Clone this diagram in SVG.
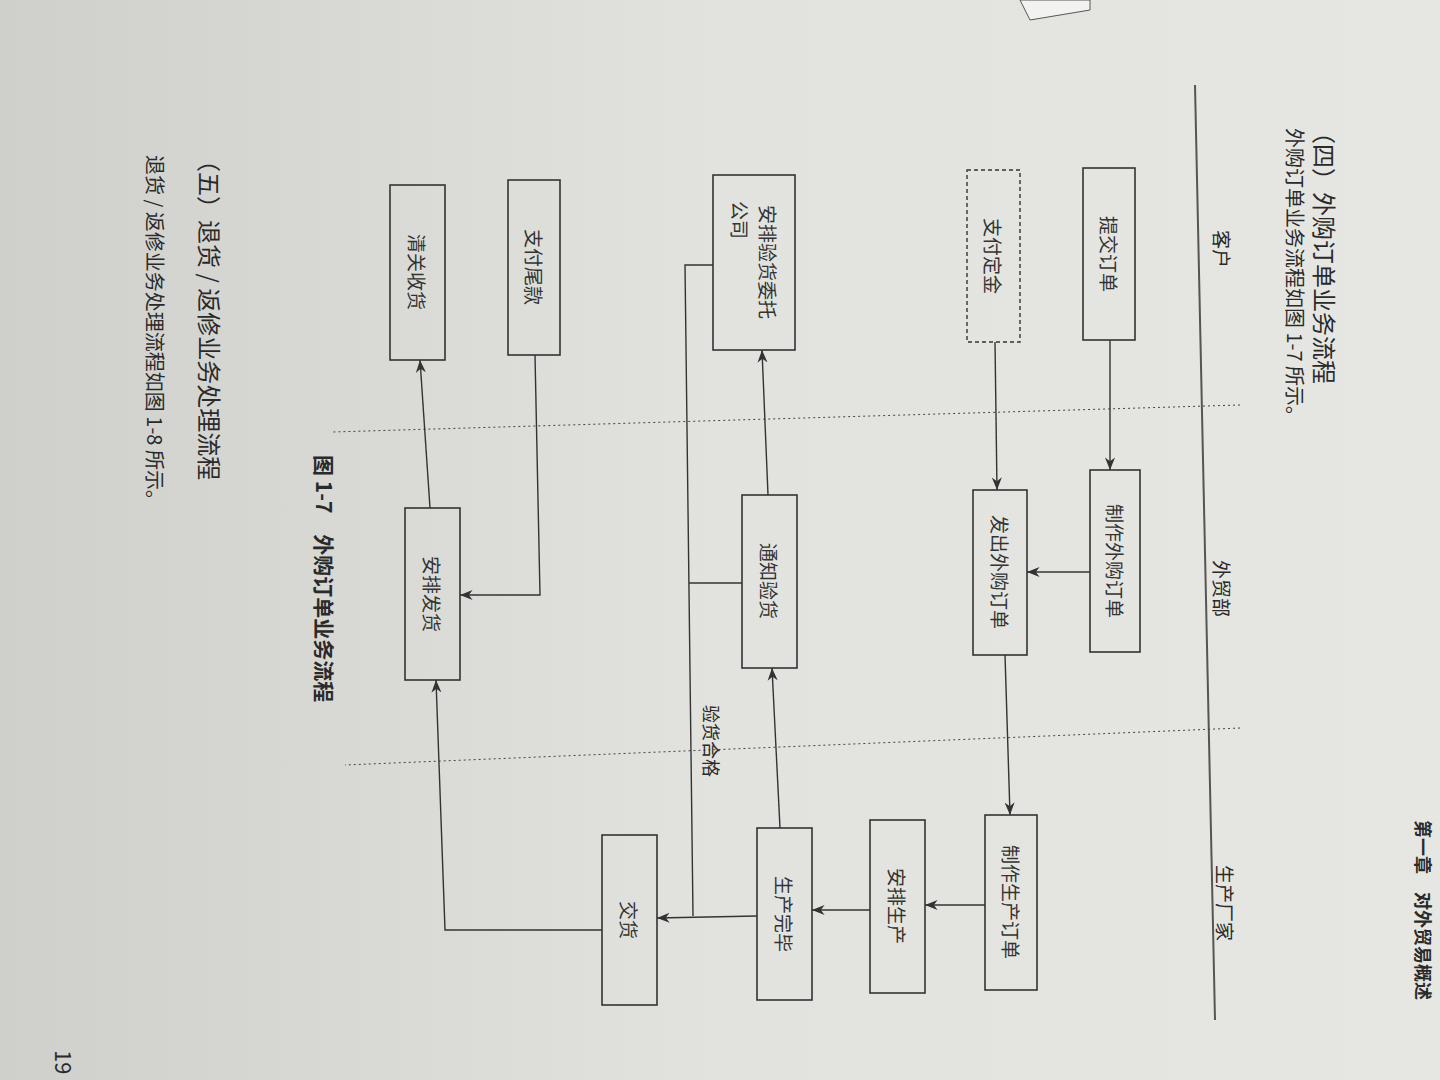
<svg xmlns="http://www.w3.org/2000/svg" width="1440" height="1080" viewBox="0 0 1440 1080">
<defs>
<linearGradient id="bg" x1="0" y1="0" x2="1" y2="0"><stop offset="0" stop-color="#cfd0cc"/><stop offset="0.5" stop-color="#e2e3df"/><stop offset="1" stop-color="#e6e7e3"/></linearGradient>
<marker id="ar" viewBox="0 0 10 10" refX="10" refY="5" markerWidth="9" markerHeight="9" orient="auto"><path d="M0,1 L10,5 L0,9 L3,5 Z" fill="#333"/></marker>
<style>
.box{fill:none;stroke:#333;stroke-width:1.6}
.dash{fill:none;stroke:#333;stroke-width:1.4;stroke-dasharray:4 3}
.c{fill:none;stroke:#333;stroke-width:1.4}
.t{font-family:"Noto Sans CJK SC",sans-serif;font-size:19px;fill:#333;text-anchor:middle;dominant-baseline:central}
.h{font-family:"Noto Sans CJK SC",sans-serif;fill:#2a2a2a;dominant-baseline:central}
.sep{stroke:#444;stroke-width:1;stroke-dasharray:2 3}
</style>
</defs>
<rect width="1440" height="1080" fill="url(#bg)"/>
<path d="M1020,0 L1090,0 L1090,10 L1030,20 Z" fill="#f2f2f0" stroke="#555"/>
<line x1="1195" y1="85" x2="1215" y2="1020" stroke="#555" stroke-width="2"/>
<text class="h" font-size="24" transform="translate(1325,120) rotate(90)">（四）外购订单业务流程</text>
<text class="h" font-size="20" transform="translate(1295,128) rotate(90)">外购订单业务流程如图 1-7 所示。</text>
<text class="h" font-size="18" font-weight="bold" transform="translate(1424,820) rotate(90)">第一章　对外贸易概述</text>
<text class="h" font-size="19" fill="#666" transform="translate(1222,230) rotate(90)">客户</text>
<text class="h" font-size="19" fill="#666" transform="translate(1222,560) rotate(90)">外贸部</text>
<text class="h" font-size="19" fill="#666" transform="translate(1225,865) rotate(90)">生产厂家</text>
<line class="sep" x1="1240" y1="405" x2="333" y2="432"/>
<line class="sep" x1="1240" y1="728" x2="345" y2="765"/>
<g id="n1"><rect class="box" x="1083" y="168" width="52" height="172"/><text class="t" transform="translate(1109,254) rotate(90)">提交订单</text></g>
<g id="n2"><rect class="dash" x="967" y="170" width="53" height="172"/><text class="t" transform="translate(993,256) rotate(90)">支付定金</text></g>
<g id="n3"><rect class="box" x="713" y="175" width="82" height="175"/><text class="t" transform="translate(768,262) rotate(90)">安排验货委托</text><text class="t" transform="translate(740,220) rotate(90)">公司</text></g>
<g id="n4"><rect class="box" x="508" y="180" width="52" height="175"/><text class="t" transform="translate(534,267) rotate(90)">支付尾款</text></g>
<g id="n5"><rect class="box" x="390" y="185" width="55" height="175"/><text class="t" transform="translate(417,272) rotate(90)">清关收货</text></g>
<g id="n6"><rect class="box" x="1090" y="470" width="50" height="182"/><text class="t" transform="translate(1115,561) rotate(90)">制作外购订单</text></g>
<g id="n7"><rect class="box" x="973" y="490" width="54" height="165"/><text class="t" transform="translate(1000,572) rotate(90)">发出外购订单</text></g>
<g id="n8"><rect class="box" x="742" y="495" width="55" height="173"/><text class="t" transform="translate(769,581) rotate(90)">通知验货</text></g>
<g id="n9"><rect class="box" x="405" y="508" width="55" height="172"/><text class="t" transform="translate(432,594) rotate(90)">安排发货</text></g>
<g id="n10"><rect class="box" x="985" y="815" width="52" height="175"/><text class="t" transform="translate(1011,902) rotate(90)">制作生产订单</text></g>
<g id="n11"><rect class="box" x="870" y="820" width="55" height="173"/><text class="t" transform="translate(897,906) rotate(90)">安排生产</text></g>
<g id="n12"><rect class="box" x="757" y="828" width="55" height="172"/><text class="t" transform="translate(784,914) rotate(90)">生产完毕</text></g>
<g id="n13"><rect class="box" x="602" y="835" width="55" height="170"/><text class="t" transform="translate(629,920) rotate(90)">交货</text></g>
<g id="connectors">
<path class="c" d="M1110,340 L1110,470" marker-end="url(#ar)"/>
<path class="c" d="M995,342 L997,490" marker-end="url(#ar)"/>
<path class="c" d="M1090,572 L1027,572" marker-end="url(#ar)"/>
<path class="c" d="M1005,655 L1010,815" marker-end="url(#ar)"/>
<path class="c" d="M985,905 L925,905" marker-end="url(#ar)"/>
<path class="c" d="M870,910 L812,910" marker-end="url(#ar)"/>
<path class="c" d="M757,916 L657,918" marker-end="url(#ar)"/>
<path class="c" d="M713,265 L685,265 L693,916"/>
<path class="c" d="M742,583 L689,583"/>
<path class="c" d="M780,828 L772,668" marker-end="url(#ar)"/>
<path class="c" d="M768,495 L762,350" marker-end="url(#ar)"/>
<path class="c" d="M602,930 L445,930 L436,680" marker-end="url(#ar)"/>
<path class="c" d="M535,355 L540,595 L460,595" marker-end="url(#ar)"/>
<path class="c" d="M430,508 L420,360" marker-end="url(#ar)"/>
<text class="h" font-size="18" transform="translate(712,705) rotate(90)">验货合格</text>
</g>
<text class="h" font-size="21" font-weight="bold" transform="translate(325,455) rotate(90)">图 1-7　外购订单业务流程</text>
<text class="h" font-size="24" transform="translate(210,148) rotate(90)">（五）退货 / 返修业务处理流程</text>
<text class="h" font-size="20" transform="translate(155,155) rotate(90)">退货 / 返修业务处理流程如图 1-8 所示。</text>
<text class="h" font-size="22" transform="translate(65,1050) rotate(90)">19</text>
</svg>
